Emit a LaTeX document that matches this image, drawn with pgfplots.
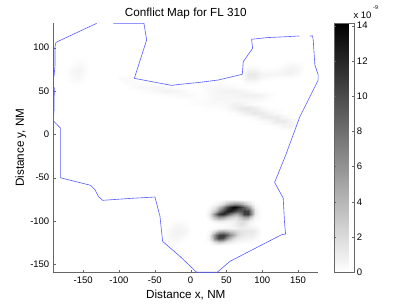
\documentclass[border=0pt]{standalone}
\usepackage{pgfplots}
\pgfplotsset{compat=1.18}
\usepackage{fontspec}
\setmainfont{Liberation Sans}
\definecolor{spine}{gray}{0.4}
\definecolor{poly}{rgb}{0.36,0.36,1}
\pgfplotsset{poly/.style={no marks,color=poly,line width=0.6pt,forget plot},
 heat/.style={surf,shader=interp,forget plot,point meta=\thisrowno{0}}}
\begin{document}
\begin{tikzpicture}[x=1pt,y=1pt]
\useasboundingbox (0,0) rectangle (407,306);
\begin{axis}[
 at={(53.3pt,33.7pt)},anchor=south west,
 scale only axis,width=265pt,height=249.3pt,
 xmin=-191.7,xmax=178.2,ymin=-159.3,ymax=128.5,
 axis x line*=bottom,axis y line*=left,
 axis line style={draw=spine,-},
 tick style={draw=spine},tick align=inside,major tick length=2.7pt,
 xtick={-150,-100,-50,0,50,100,150},
 ytick={-150,-100,-50,0,50,100},
 tick label style={font=\fontsize{9.5}{11}\selectfont},
 /pgf/number format/assume math mode=true,
 xticklabel style={yshift=-1.5pt},
 yticklabel style={xshift=-0.5pt},
 title={Conflict Map for FL 310},
 title style={font=\fontsize{11.7}{13}\selectfont,at={(0.5,1)},anchor=south,yshift=-5pt},
 xlabel={Distance x, NM},ylabel={Distance y, NM},
 label style={font=\fontsize{11.7}{13}\selectfont},
 xlabel style={yshift=1pt},
 ylabel style={yshift=-3pt},
 colormap={wk}{color=(white) color=(black)},
 point meta min=0,point meta max=14.15,
 colorbar,
 colorbar style={width=20.4pt,xshift=7pt,
  ytick={0,2,...,14},
  axis line style={draw=spine},
  tick style={draw=spine},tick align=inside,major tick length=2.2pt,
  yticklabel pos=right,
  yticklabel style={font=\fontsize{9.5}{11}\selectfont,xshift=-1pt},
  /pgf/number format/assume math mode=true},
]
% bottom blobs: x 20..100 step 5, y -76..-128 step 4
\addplot[heat,mesh/cols=17] table[row sep=crcr,header=false,x expr={20+5*mod(\coordindex,17)},y expr={-76-4*floor(\coordindex/17)}] {
0\\0\\0\\0.1\\0.2\\0.4\\0.6\\0.8\\0.9\\0.8\\0.5\\0.3\\0.2\\0.1\\0\\0\\0\\
0\\0.1\\0.2\\0.5\\1\\2\\3.5\\5\\6\\6\\5\\3.5\\2\\0.8\\0.2\\0\\0\\
0\\0.3\\0.8\\1.8\\3.5\\6\\9\\12\\13.8\\13\\11\\9\\6\\2.5\\0.6\\0.1\\0\\
0\\0.7\\1.8\\4\\7\\10\\12\\12.5\\11\\9.5\\9.5\\11\\10.5\\5\\1.2\\0.2\\0\\
0\\1\\3.5\\8\\11\\12\\10.5\\7.5\\5.5\\5\\7\\10.5\\11\\5.5\\1.2\\0.3\\0\\
0\\0.7\\2.2\\4.5\\6\\5.5\\4.2\\3\\2.2\\2.2\\3.5\\5\\5\\2.2\\0.6\\0.3\\0\\
0\\0.1\\0.4\\0.8\\1.2\\1\\0.8\\0.7\\0.8\\1.2\\1.8\\1.8\\1.2\\0.5\\0.2\\0.1\\0\\
0\\0\\0\\0.1\\0.1\\0.2\\0.2\\0.4\\0.7\\1.2\\1.7\\1.5\\0.7\\0.3\\0.2\\0\\0\\
0\\0\\0.1\\0.2\\0.3\\0.4\\0.5\\0.5\\0.5\\0.7\\1\\1\\0.8\\0.6\\0.5\\0.2\\0\\
0\\0.3\\1\\2.5\\4\\4.5\\3.8\\3\\2.5\\2\\1.5\\1.4\\1.4\\1.3\\1\\0.4\\0\\
0\\0.6\\3.5\\8\\10.5\\11\\9.5\\6.5\\4.2\\2.5\\1.5\\1.2\\1\\1\\0.8\\0.3\\0\\
0\\0.6\\3\\8\\10.5\\10\\7\\4\\2.2\\1.3\\1\\0.8\\0.7\\0.7\\0.4\\0.1\\0\\
0\\0.1\\0.7\\2\\3\\2.5\\1.6\\1\\0.6\\0.4\\0.3\\0.3\\0.2\\0.2\\0.1\\0\\0\\
0\\0\\0.1\\0.2\\0.3\\0.2\\0.2\\0.1\\0.1\\0\\0\\0\\0\\0\\0\\0\\0\\
};
% upper streaks: x -100..170 step 10, y 85..5 step 5
\addplot[heat,mesh/cols=28] table[row sep=crcr,header=false,x expr={-100+10*mod(\coordindex,28)},y expr={85-5*floor(\coordindex/28)}] {
0\\0\\0\\0\\0\\0\\0\\0\\0\\0\\0\\0\\0\\0\\0\\0\\0\\0\\0\\0\\0\\0\\0\\0\\0.1\\0.1\\0\\0\\
0\\0\\0\\0\\0\\0\\0\\0\\0\\0\\0\\0\\0\\0\\0\\0\\0\\0\\0.1\\0.1\\0\\0\\0\\0.2\\0.4\\0.3\\0\\0\\
0\\0\\0\\0\\0\\0\\0\\0\\0\\0\\0\\0\\0\\0\\0\\0\\0\\0\\0.5\\0.5\\0.1\\0.1\\0.2\\0.5\\0.7\\0.5\\0\\0\\
0\\0\\0\\0\\0\\0\\0\\0\\0\\0\\0\\0\\0\\0\\0\\0\\0\\0\\1.2\\1.2\\0.6\\0.5\\0.5\\0.6\\0.6\\0.3\\0\\0\\
0.2\\0.3\\0.1\\0\\0\\0\\0\\0\\0\\0\\0\\0\\0\\0\\0\\0\\0\\0\\1\\1\\0.4\\0.2\\0.1\\0.1\\0.1\\0\\0\\0\\
0.1\\0.3\\0.3\\0.2\\0.1\\0\\0\\0\\0\\0\\0\\0\\0.1\\0.2\\0.2\\0.1\\0\\0\\0.3\\0.3\\0\\0\\0\\0\\0\\0\\0\\0\\
0\\0\\0.2\\0.4\\0.4\\0.5\\0.5\\0.3\\0.15\\0\\0\\0\\0.2\\0.4\\0.5\\0.4\\0.3\\0.1\\0\\0\\0\\0\\0\\0\\0\\0\\0\\0\\
0\\0\\0\\0.1\\0.2\\0.4\\0.6\\0.7\\0.6\\0.4\\0.1\\0\\0.2\\0.4\\0.6\\0.7\\0.7\\0.6\\0.4\\0.2\\0.1\\0\\0\\0\\0\\0\\0\\0\\
0\\0\\0\\0\\0\\0\\0.1\\0.2\\0.3\\0.4\\0.3\\0.1\\0.15\\0.4\\0.5\\0.5\\0.5\\0.7\\0.8\\0.8\\0.6\\0.2\\0\\0\\0\\0\\0\\0\\
0\\0\\0\\0\\0\\0\\0\\0\\0\\0\\0.1\\0.15\\0.2\\0.4\\0.5\\0.5\\0.4\\0.4\\0.4\\0.4\\0.3\\0.1\\0\\0\\0\\0\\0\\0\\
0\\0\\0\\0\\0\\0\\0\\0\\0\\0\\0.1\\0.2\\0.25\\0.3\\0.3\\0.4\\0.8\\0.7\\0.3\\0.1\\0\\0\\0\\0\\0\\0\\0\\0\\
0\\0\\0\\0\\0\\0\\0\\0\\0\\0\\0\\0\\0.1\\0.1\\0.1\\0.3\\0.7\\1.3\\1.5\\1\\0.4\\0.1\\0\\0\\0\\0\\0\\0\\
0\\0\\0\\0\\0\\0\\0\\0\\0\\0\\0\\0\\0\\0\\0\\0\\0.1\\0.5\\1\\1.4\\1.2\\0.7\\0.3\\0\\0\\0\\0\\0\\
0\\0\\0\\0\\0\\0\\0\\0\\0\\0\\0\\0\\0\\0\\0\\0\\0\\0\\0.1\\0.4\\1\\1.2\\1.1\\0.5\\0.1\\0\\0\\0\\
0\\0\\0\\0\\0\\0\\0\\0\\0\\0\\0\\0\\0\\0\\0\\0\\0\\0\\0\\0\\0.2\\0.5\\1.2\\1.2\\0.6\\0.1\\0\\0\\
0\\0\\0\\0\\0\\0\\0\\0\\0\\0\\0\\0\\0\\0\\0\\0\\0\\0\\0\\0\\0\\0\\0.2\\0.6\\0.7\\0.3\\0\\0\\
0\\0\\0\\0\\0\\0\\0\\0\\0\\0\\0\\0\\0\\0\\0\\0\\0\\0\\0\\0\\0\\0\\0\\0\\0.1\\0.1\\0\\0\\
};
% left smudge
\addplot[heat,mesh/cols=6] table[row sep=crcr,header=false,x expr={-180+8*mod(\coordindex,6)},y expr={90-8*floor(\coordindex/6)}] {
0\\0\\0\\0\\0\\0\\
0\\0\\0.1\\0.3\\0.1\\0\\
0\\0.1\\0.5\\0.6\\0.3\\0\\
0\\0.1\\0.4\\0.5\\0.2\\0\\
0\\0\\0.05\\0.05\\0\\0\\
0\\0\\0\\0\\0\\0\\
};
% lower-left smudge
\addplot[heat,mesh/cols=6] table[row sep=crcr,header=false,x expr={-40+8*mod(\coordindex,6)},y expr={-98-7*floor(\coordindex/6)}] {
0\\0\\0\\0.05\\0.05\\0\\
0\\0.05\\0.3\\0.5\\0.3\\0\\
0\\0.3\\0.6\\0.7\\0.6\\0.1\\
0\\0.4\\0.6\\0.5\\0.2\\0\\
0\\0.1\\0.2\\0.1\\0\\0\\
0\\0\\0\\0\\0\\0\\
};
% sector boundary
\addplot[poly] coordinates {(-131.2,128.1)(-187.9,106.2)(-189.3,101.2)(-189.3,80)(-190.7,66.5)};
\addplot[poly] coordinates {(-190.3,54.2)(-190.7,28.1)(-191.7,15.7)(-181.9,7.3)(-181.9,-50.1)(-139.6,-58.9)(-133.5,-63.9)(-128.9,-71.6)(-122.8,-76.2)(-82.4,-73.9)(-49.8,-72.4)(-42.8,-94.7)(-39.1,-123.6)(-14.9,-140.9)(8.3,-159.2)(37.2,-159.2)(54.8,-146.7)(126.9,-115.9)(132.5,-115.1)(131.1,-102.4)(129.2,-73.6)(117.2,-55.5)(133,-23.5)(133.9,-21.2)(152.5,20.4)(178.1,62.7)(178.1,68.5)(173.4,80)(171.1,108.9)(170.2,113.5)(166.5,113.5)};
\addplot[poly] coordinates {(151.6,113.5)(136.2,112.8)(106,111.6)(85.1,109.7)(86.5,99.3)(73.5,83.9)(72.1,69.3)(38.6,62.7)(13,60)(-14.9,57.7)(-26.6,56.5)(-78.6,64.6)(-61.4,108.9)(-65.2,128.1)(-107.9,128.1)};
\end{axis}
\node[anchor=base west,inner sep=0pt,font=\fontsize{9.5}{11}\selectfont] at (353.3,287) {x 10};
\node[anchor=base west,inner sep=0pt,font=\fontsize{5.5}{6}\selectfont] at (373,296) {-9};
\end{tikzpicture}
\end{document}
